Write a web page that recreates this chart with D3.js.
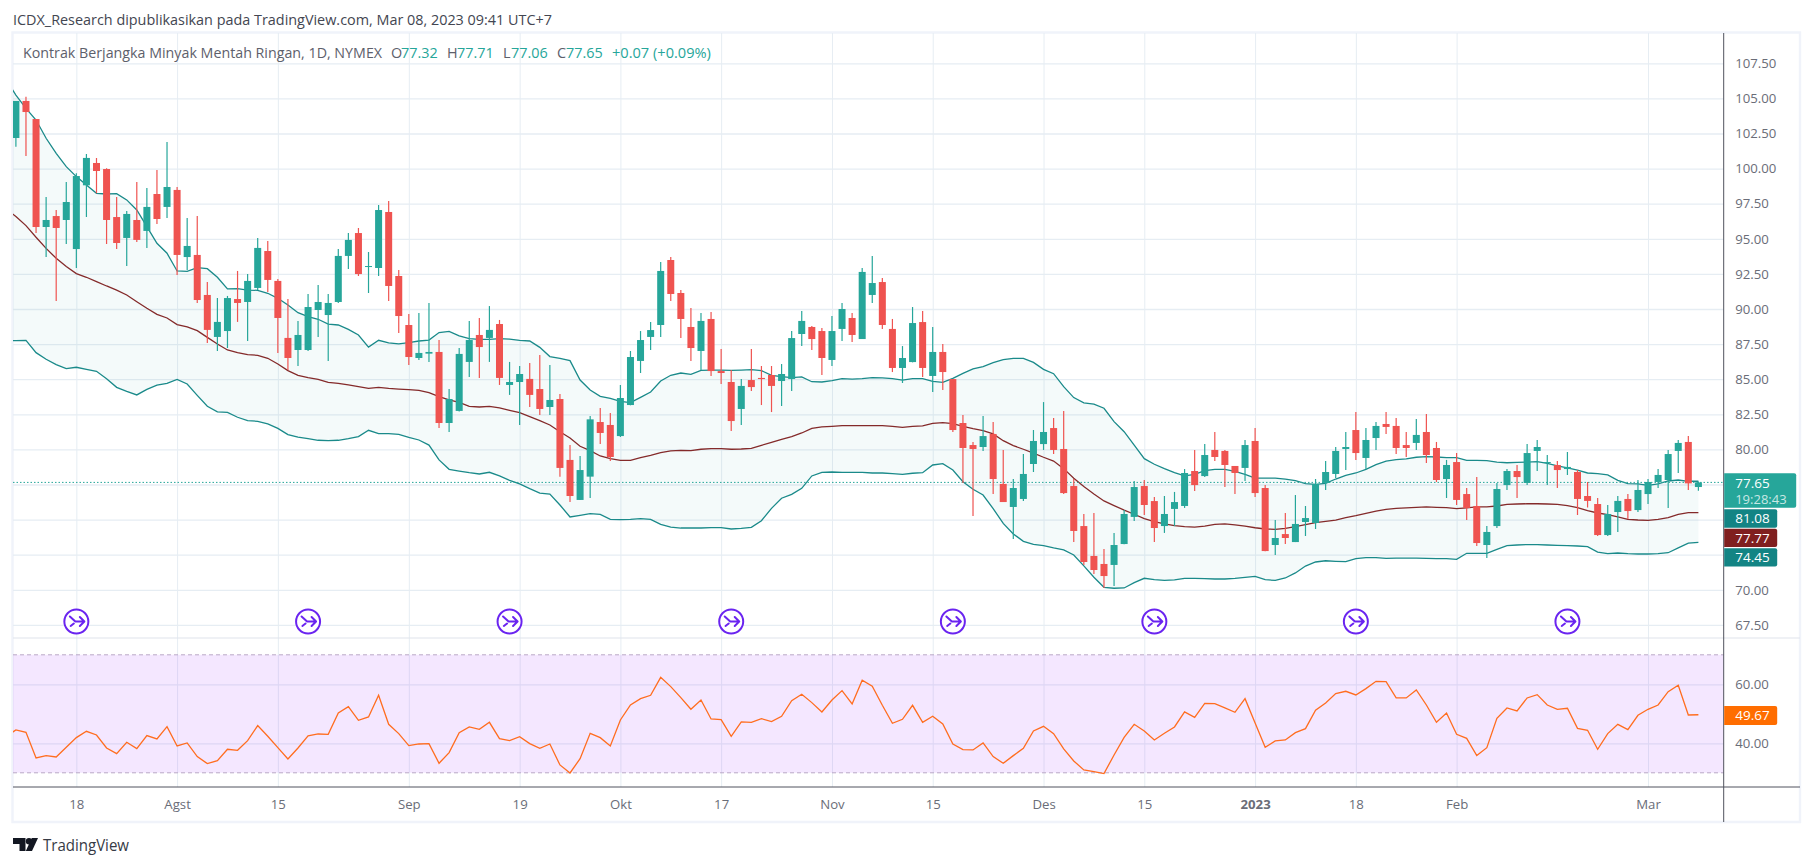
<!DOCTYPE html>
<html>
<head>
<meta charset="utf-8">
<script src="https://cdnjs.cloudflare.com/ajax/libs/d3/7.8.5/d3.min.js"></script>
<style>
html,body{margin:0;padding:0;background:#fff;}
svg{display:block;}
text{font-family:"Open Sans","Noto Sans",sans-serif;}
</style>
</head>
<body>
<svg id="c" width="1813" height="866"></svg>
<script>
const headerText = "ICDX_Research dipublikasikan pada TradingView.com, Mar 08, 2023 09:41 UTC+7";
const symbolText = "Kontrak Berjangka Minyak Mentah Ringan, 1D, NYMEX";
const opens = [102.18,104.82,103.53,95.84,96.62,96.34,94.27,98.81,100.40,99.97,
96.55,95.06,96.34,95.56,98.19,97.27,98.48,93.70,93.85,91.00,
88.01,88.43,90.71,90.50,91.50,94.13,92.00,87.94,87.08,87.08,
89.93,89.57,90.50,93.78,95.41,92.99,92.92,96.91,92.35,88.86,
86.51,86.82,86.94,81.88,82.74,86.23,88.15,87.94,88.93,84.59,
84.80,85.02,84.30,83.02,83.59,79.25,76.40,78.06,81.95,81.74,
80.95,83.16,86.30,88.01,88.86,93.49,91.14,88.72,87.01,89.29,
85.58,84.80,82.88,84.94,85.09,85.30,84.87,85.01,88.22,88.72,
88.43,86.37,88.58,89.36,87.86,91.00,91.92,88.58,85.80,86.22,
89.07,85.23,86.94,85.01,81.88,80.31,80.17,81.10,77.54,75.90,
76.47,78.96,80.38,81.52,80.03,77.39,74.54,72.41,71.84,71.77,
73.26,75.19,77.39,76.32,74.54,75.76,75.97,78.46,78.10,79.96,
79.89,78.82,78.68,80.60,77.25,73.19,73.97,73.40,74.83,74.76,
77.61,78.25,80.03,81.38,79.39,80.81,81.81,81.67,80.31,80.46,
81.24,80.10,77.89,79.10,76.82,75.97,73.19,74.54,77.46,78.46,
77.61,79.89,79.03,78.89,78.60,78.39,76.68,76.11,73.90,75.54,
76.47,75.68,76.82,77.68,77.82,79.89,80.53,77.32];
const highs = [104.82,105.12,103.53,97.98,97.05,99.05,99.66,101.04,100.76,100.02,
97.98,96.98,99.05,98.62,99.90,101.90,98.69,96.48,96.62,91.92,
90.78,90.93,92.71,92.49,95.06,94.84,92.14,90.71,89.15,91.07,
91.71,91.07,94.27,95.41,95.77,94.06,97.41,97.69,92.78,89.64,
89.72,90.43,87.79,84.30,87.22,89.15,89.36,90.21,89.22,86.23,
85.94,86.15,86.72,86.01,83.95,80.31,79.53,82.38,82.95,82.59,
84.59,87.01,88.43,89.07,93.35,93.70,91.35,90.07,89.72,89.79,
87.15,85.65,85.01,87.15,85.94,85.94,86.08,88.43,89.86,88.79,
88.65,89.50,90.43,89.72,92.92,93.78,92.21,89.29,87.36,90.14,
89.86,88.72,87.51,85.01,82.45,80.53,82.38,81.95,79.96,77.89,
79.67,81.38,83.37,82.24,82.73,77.89,75.40,75.47,72.91,74.05,
75.68,77.75,77.82,76.61,76.68,76.97,78.60,79.96,80.38,81.24,
79.96,78.82,80.67,81.52,77.46,74.97,75.47,76.75,75.97,77.89,
79.17,80.17,81.24,82.66,81.52,81.95,82.66,82.24,81.24,82.17,
82.52,80.53,79.25,79.74,77.25,78.03,74.54,77.61,78.60,78.89,
80.38,80.67,79.60,79.17,79.82,78.53,77.68,76.54,76.04,76.68,
76.82,77.82,77.89,78.60,79.96,80.67,80.95,77.71];
const lows = [101.56,100.90,95.41,93.70,90.57,94.63,92.92,96.55,98.24,94.63,
94.27,93.06,94.77,94.35,96.06,96.48,92.42,92.78,90.43,87.58,
87.01,87.22,89.08,87.72,91.35,91.21,86.87,85.66,85.94,87.01,
88.01,86.30,90.43,92.85,92.35,91.14,92.35,90.57,88.29,86.01,
86.37,86.23,81.53,81.24,82.70,85.16,85.09,86.23,84.59,83.88,
81.74,83.02,82.45,82.45,78.06,76.25,76.40,76.54,80.38,79.17,
80.88,83.14,85.44,87.08,88.01,90.57,87.93,86.30,85.65,85.23,
84.66,81.31,81.74,84.16,83.16,82.66,83.09,84.16,87.36,87.08,
85.30,85.94,87.72,87.65,87.86,90.43,88.58,85.51,84.73,86.20,
85.16,84.09,84.23,81.24,77.61,75.26,79.89,76.82,76.25,73.62,
76.32,78.39,79.96,79.67,76.82,73.40,71.77,71.13,70.13,70.27,
73.24,74.90,75.33,73.40,74.05,74.54,75.83,77.04,78.03,79.17,
77.32,76.82,77.75,76.61,72.74,72.48,73.26,73.40,73.83,74.33,
77.11,77.96,78.53,79.25,78.60,79.96,81.10,79.67,79.46,79.96,
79.03,77.68,76.54,76.04,74.97,73.12,72.27,74.40,77.11,76.54,
77.46,78.46,77.46,77.25,78.18,75.33,75.87,73.83,73.83,74.12,
75.04,75.54,76.11,77.25,75.83,78.32,77.11,77.06];
const closes = [104.82,104.03,95.84,96.34,95.77,97.62,99.47,100.76,99.83,96.34,
94.70,96.77,94.92,97.27,96.41,98.69,93.85,94.49,90.64,88.51,
89.08,90.78,90.43,92.00,94.35,92.07,89.36,86.51,88.15,90.14,
90.50,90.43,93.78,94.92,92.49,93.06,97.05,91.64,89.50,86.58,
86.87,86.94,81.88,83.59,86.80,87.79,87.29,88.51,85.09,84.80,
85.37,83.88,82.88,83.52,78.68,76.68,78.53,82.14,81.17,79.46,
83.66,86.58,87.79,88.50,92.71,91.07,89.29,87.22,89.15,85.58,
85.44,82.02,84.52,84.44,85.01,84.52,85.37,87.93,89.15,87.86,
86.51,88.43,90.00,88.15,92.64,91.85,88.86,85.80,86.51,89.00,
85.80,86.94,85.51,81.38,80.10,80.03,80.95,77.89,76.25,77.25,
78.25,80.60,81.24,79.96,76.89,74.19,71.98,71.41,70.98,73.19,
75.40,77.32,76.04,74.40,75.40,76.25,78.32,77.46,79.60,79.46,
78.89,78.32,80.31,76.89,72.76,73.69,73.69,74.69,75.11,77.54,
78.39,79.89,80.17,79.74,80.67,81.67,81.60,80.10,80.10,81.03,
79.60,77.82,78.89,76.40,75.83,73.33,74.12,77.18,78.46,78.03,
79.74,80.17,79.10,78.53,78.75,76.47,76.33,73.90,75.40,76.33,
75.61,77.11,77.68,78.18,79.67,80.46,77.58,77.65];

// Band and RSI series start one bar before the first visible candle.
const seriesStart = -1;
const upperBand = [106.36,105.24,104.29,103.46,102.16,101.09,100.14,99.43,98.83,98.24,98.19,
98.22,97.77,97.05,95.87,94.68,93.97,92.71,92.68,92.95,92.87,
92.26,91.43,91.45,91.35,91.33,91.12,90.76,90.29,89.74,89.46,
89.27,88.93,88.86,88.55,88.15,87.29,87.77,87.58,87.51,87.60,
87.72,87.79,88.32,88.41,88.08,87.89,87.84,87.84,87.89,87.86,
87.77,87.72,87.27,86.61,86.49,86.32,84.94,84.23,83.78,83.64,
83.42,83.33,83.71,84.09,84.87,85.28,85.44,85.35,85.63,85.65,
85.65,85.63,85.65,85.68,85.61,85.28,85.18,85.11,85.16,84.82,
84.80,84.90,85.04,85.01,85.04,85.11,85.09,85.04,84.94,85.04,
85.04,84.85,84.78,85.06,85.42,85.73,85.89,86.18,86.39,86.49,
86.49,86.20,85.70,85.39,84.47,83.69,83.31,83.23,82.93,81.98,
81.26,80.31,79.34,78.94,78.63,78.34,78.11,78.22,78.49,78.58,
78.58,78.44,78.22,77.96,77.96,77.96,77.89,77.77,77.56,77.51,
77.58,77.89,78.15,78.32,78.58,78.91,79.17,79.27,79.32,79.44,
79.48,79.46,79.41,79.41,79.22,79.22,79.20,79.10,79.05,79.08,
79.10,79.13,79.01,78.82,78.68,78.53,78.32,78.27,78.18,77.80,
77.56,77.54,77.44,77.54,77.75,77.82,77.73,77.73];
const middleBand = [97.17,96.58,95.94,95.11,94.32,93.61,93.02,92.52,92.26,91.95,91.64,
91.35,91.00,90.52,90.05,89.62,89.36,88.89,88.72,88.46,87.98,
87.51,87.08,86.89,86.75,86.70,86.49,86.08,85.61,85.28,85.11,
84.99,84.78,84.71,84.59,84.47,84.35,84.42,84.35,84.30,84.26,
84.21,84.04,83.76,83.52,83.35,83.07,83.02,83.07,82.95,82.78,
82.62,82.33,82.05,81.74,81.26,80.81,80.22,79.91,79.53,79.34,
79.22,79.22,79.41,79.58,79.77,79.89,79.93,79.91,80.01,80.05,
80.05,80.01,80.03,80.08,80.29,80.50,80.72,80.91,81.17,81.50,
81.60,81.64,81.69,81.69,81.69,81.69,81.69,81.64,81.57,81.64,
81.67,81.86,81.90,81.83,81.64,81.48,81.34,81.10,80.62,80.27,
80.01,79.74,79.44,79.17,78.63,77.94,77.35,76.82,76.33,76.00,
75.68,75.38,75.07,74.85,74.69,74.57,74.50,74.47,74.54,74.66,
74.69,74.62,74.54,74.42,74.33,74.31,74.38,74.50,74.64,74.78,
74.88,74.97,75.14,75.28,75.45,75.61,75.73,75.80,75.83,75.87,
75.90,75.87,75.85,75.78,75.83,75.90,75.90,75.97,76.09,76.11,
76.13,76.13,76.11,76.09,75.99,75.85,75.64,75.47,75.35,75.19,
75.02,74.97,74.95,75.02,75.14,75.38,75.49,75.49];
const lowerBand = [87.75,87.75,87.77,86.89,86.42,86.04,85.75,85.85,85.70,85.56,85.04,
84.42,84.14,83.88,84.28,84.57,84.71,84.99,84.66,83.85,83.07,
82.67,82.64,82.29,82.05,82.00,81.81,81.50,81.05,80.88,80.76,
80.65,80.62,80.65,80.76,80.91,81.36,81.12,81.12,81.07,80.86,
80.67,80.31,79.25,78.58,78.46,78.34,78.25,78.37,78.11,77.80,
77.54,77.20,76.89,76.82,76.04,75.19,75.30,75.42,75.37,75.02,
75.00,75.02,75.07,75.02,74.66,74.47,74.40,74.40,74.40,74.43,
74.43,74.33,74.38,74.45,74.92,75.80,76.52,76.80,77.23,78.11,
78.37,78.39,78.37,78.37,78.37,78.32,78.32,78.27,78.22,78.30,
78.34,78.89,78.98,78.53,77.70,77.16,76.75,75.78,74.73,73.98,
73.45,73.24,73.14,72.98,72.84,72.48,71.70,70.89,70.18,70.11,
70.13,70.51,70.82,70.72,70.67,70.70,70.82,70.82,70.79,70.77,
70.77,70.82,70.89,70.96,70.72,70.67,70.84,71.20,71.69,71.98,
72.07,72.03,72.00,72.22,72.29,72.29,72.24,72.26,72.26,72.26,
72.24,72.22,72.22,72.17,72.60,72.60,72.60,72.88,73.14,73.19,
73.22,73.22,73.19,73.17,73.14,73.12,73.07,72.69,72.57,72.62,
72.57,72.55,72.55,72.57,72.64,72.98,73.33,73.38];
const rsiValues = [42.26,44.52,43.73,35.03,35.82,35.37,38.64,41.92,44.07,42.82,38.42,
36.50,40.34,38.19,42.60,41.47,45.65,39.10,40.11,35.48,33.11,
34.12,37.97,37.63,40.90,45.99,42.37,38.53,34.69,38.42,42.49,
43.16,43.05,50.28,52.43,47.80,48.93,56.27,46.44,43.28,39.21,
39.77,39.89,33.22,36.84,43.62,45.54,44.75,47.12,41.58,40.90,
42.26,39.89,38.31,39.77,32.66,29.94,34.80,43.39,41.92,39.10,
47.91,52.99,55.14,56.27,62.37,59.21,55.48,51.53,54.69,48.25,
48.02,42.37,47.23,47.12,48.36,47.34,49.15,54.46,56.61,53.79,
50.62,54.69,57.85,53.33,61.36,59.32,52.88,46.78,48.14,52.88,
47.12,49.15,46.55,39.77,37.85,37.74,40.11,35.48,33.22,35.82,
38.31,44.18,45.76,43.28,38.08,34.01,30.96,30.40,29.72,36.05,
42.03,46.44,44.18,41.13,43.39,45.54,50.62,48.81,53.56,53.45,
51.98,50.51,55.14,46.89,38.64,40.79,41.13,43.62,44.97,51.19,
53.67,56.84,57.63,56.38,58.53,61.02,60.90,55.37,55.37,58.08,
52.99,47.12,50.28,43.05,41.69,35.82,38.53,48.47,51.98,50.96,
55.37,56.50,52.99,51.53,51.86,45.08,44.41,37.97,43.28,46.44,
44.63,49.49,51.53,52.99,57.51,59.66,49.60,49.67];

const timeTickBars = [6,16,26,39,50,60,70,81,91,102,112,123,133,143,162];
const timeTickLabels = ["18","Agst","15","Sep","19","Okt","17","Nov","15","Des","15","2023","18","Feb","Mar"];
const priceGrid = d3.range(67.5, 107.51, 2.5);
const priceTickHidden = [72.5, 75, 77.5];
const rsiGrid = [40, 60];
const rsiBands = [30, 70];
const earningsBars = [6,29,49,71,93,113,133,154];
const lastClose = 77.65;
const legendOHLC = ["O","77.32","H","77.71","L","77.06","C","77.65"];
const legendChange = "+0.07 (+0.09%)";
const bandTags = ["81.08","77.77","74.45"];
const rsiTag = "49.67";
const countdown = "19:28:43";

const UP="#26a69a", DOWN="#ef5350", GRID="#e6edf3", AXIS="#50535e", TXT="#6a6d78";
const L=13, R=1723.7, T=33, SEP=638, AB=787, FB=822, FR=1800;

const x = d3.scaleLinear().domain([0,167]).range([15.9,1698.4]);
const y = d3.scaleLinear().domain([67.5,107.5]).range([624.9,63.3]);
const yr = d3.scaleLinear().domain([30,70]).range([772.8,654.8]);

const svg = d3.select("#c");
const defs = svg.append("defs");
defs.append("clipPath").attr("id","pane").append("rect").attr("x",L).attr("y",T).attr("width",R-L).attr("height",SEP-T);
defs.append("clipPath").attr("id","rsi").append("rect").attr("x",L).attr("y",SEP).attr("width",R-L).attr("height",AB-SEP);

// header
svg.append("text").attr("x",13).attr("y",20).attr("dy","0.35em").attr("font-size",14.4).attr("fill","#434651").text(headerText);

// frame
svg.append("path").attr("d",`M${L-0.5},${T-0.5}H${FR}V${FB}H${L-0.5}Z`).attr("fill","none").attr("stroke","#f0f3fa").attr("stroke-width",2.4);

// grid: vertical from the time axis, horizontal from the price axes
svg.append("g").attr("transform",`translate(0,${T})`)
  .call(d3.axisBottom(x).tickValues(timeTickBars).tickSize(AB-T).tickFormat(""))
  .call(g=>g.select(".domain").remove())
  .call(g=>g.selectAll("line").attr("stroke",GRID).attr("stroke-width",1));
svg.append("g").attr("transform",`translate(${L},0)`)
  .call(d3.axisRight(y).tickValues(priceGrid).tickSize(R-L).tickFormat(""))
  .call(g=>g.select(".domain").remove())
  .call(g=>g.selectAll("line").attr("stroke",GRID).attr("stroke-width",1.3));
svg.append("g").attr("transform",`translate(${L},0)`)
  .call(d3.axisRight(yr).tickValues(rsiGrid).tickSize(R-L).tickFormat(""))
  .call(g=>g.select(".domain").remove())
  .call(g=>g.selectAll("line").attr("stroke",GRID).attr("stroke-width",1.3));

// Bollinger bands
const pane = svg.append("g").attr("clip-path","url(#pane)");
const bx = (d,i)=>x(i+seriesStart);
pane.append("path").datum(upperBand)
  .attr("d",d3.area().x(bx).y0((d,i)=>y(lowerBand[i])).y1(d=>y(d)))
  .attr("fill","rgba(38,166,154,0.05)");
const bandLine = d3.line().x(bx).y(d=>y(d));
pane.append("path").datum(upperBand).attr("d",bandLine).attr("fill","none").attr("stroke","#1a8a8a").attr("stroke-width",1.3);
pane.append("path").datum(lowerBand).attr("d",bandLine).attr("fill","none").attr("stroke","#1a8a8a").attr("stroke-width",1.3);
pane.append("path").datum(middleBand).attr("d",bandLine).attr("fill","none").attr("stroke","#842a2a").attr("stroke-width",1.3);

// close price line
pane.append("line").attr("x1",L).attr("x2",R).attr("y1",y(lastClose)).attr("y2",y(lastClose))
  .attr("stroke",UP).attr("stroke-width",1).attr("stroke-dasharray","1.5 2");

// candles
const bars = d3.range(opens.length);
const col = i=>closes[i]>=opens[i]?UP:DOWN;
pane.append("g").selectAll("line").data(bars).join("line")
  .attr("x1",i=>x(i)).attr("x2",i=>x(i)).attr("y1",i=>y(highs[i])).attr("y2",i=>y(lows[i]))
  .attr("stroke",col).attr("stroke-width",1.2);
pane.append("g").selectAll("rect").data(bars).join("rect")
  .attr("x",i=>x(i)-3.5).attr("width",7)
  .attr("y",i=>y(Math.max(opens[i],closes[i])))
  .attr("height",i=>Math.max(1,y(Math.min(opens[i],closes[i]))-y(Math.max(opens[i],closes[i]))))
  .attr("fill",col);

// earnings markers
const marks = svg.append("g").selectAll("g").data(earningsBars).join("g")
  .attr("transform",i=>`translate(${x(i)},621.5)`)
  .attr("fill","none").attr("stroke","#6a24f0").attr("stroke-width",2).attr("stroke-linecap","round").attr("stroke-linejoin","round");
marks.append("circle").attr("r",12).attr("fill","#fff");
marks.append("path").attr("d","M-6.5,-5L-1,0H7.5M3.5,-4.5L8,0L3.5,4.5M-5.7,4.5L-2.5,2");

// RSI
svg.append("rect").attr("x",L).attr("width",R-L).attr("y",yr(70)).attr("height",yr(30)-yr(70)).attr("fill","rgba(156,39,255,0.11)");
svg.append("g").selectAll("line").data(rsiBands).join("line")
  .attr("x1",L).attr("x2",R).attr("y1",d=>yr(d)).attr("y2",d=>yr(d))
  .attr("stroke","#b9a9c6").attr("stroke-width",1).attr("stroke-dasharray","4 3");
svg.append("path").datum(rsiValues).attr("clip-path","url(#rsi)")
  .attr("d",d3.line().x(bx).y(d=>yr(d))).attr("fill","none").attr("stroke","#ff6d1f").attr("stroke-width",1.3);

// separators & axes lines
svg.append("line").attr("x1",L).attr("x2",FR).attr("y1",SEP).attr("y2",SEP).attr("stroke","#e0e3eb").attr("stroke-width",1.2);
svg.append("line").attr("x1",L).attr("x2",FR).attr("y1",AB).attr("y2",AB).attr("stroke",AXIS).attr("stroke-width",1);
svg.append("line").attr("x1",R).attr("x2",R).attr("y1",T).attr("y2",FB).attr("stroke",AXIS).attr("stroke-width",1);

// price axis labels
const axisStyle = g=>g.call(g=>g.select(".domain").remove()).call(g=>g.selectAll("line").remove())
  .call(g=>g.selectAll("text").attr("font-size",13.2).attr("fill",TXT).attr("font-family",'"Open Sans","Noto Sans",sans-serif').attr("x",11.5));
svg.append("g").attr("transform",`translate(${R},0)`)
  .call(d3.axisRight(y).tickValues(priceGrid.filter(v=>!priceTickHidden.includes(v))).tickFormat(d3.format(".2f")))
  .call(axisStyle);
svg.append("g").attr("transform",`translate(${R},0)`)
  .call(d3.axisRight(yr).tickValues(rsiGrid).tickFormat(d3.format(".2f")))
  .call(axisStyle);

// time axis labels
svg.append("g").attr("transform",`translate(0,${AB})`)
  .call(d3.axisBottom(x).tickValues(timeTickBars).tickFormat((d,i)=>timeTickLabels[i]))
  .call(g=>g.select(".domain").remove()).call(g=>g.selectAll("line").remove())
  .call(g=>g.selectAll("text").attr("y",17).attr("dy","0.35em").attr("font-size",13.2).attr("fill",TXT)
    .attr("font-family",'"Open Sans","Noto Sans",sans-serif')
    .attr("font-weight",(d,i)=>timeTickLabels[i]==="2023"?700:400));

// legend
svg.append("text").attr("x",23).attr("y",53).attr("dy","0.35em").attr("font-size",14.25).attr("fill","#5d606b").text(symbolText);
const legX=[391,401,447,457,503,511,557,566];
legendOHLC.forEach((t,i)=>svg.append("text").attr("x",legX[i]).attr("y",53).attr("dy","0.35em").attr("font-size",14.4)
  .attr("fill",i%2?UP:"#5d606b").text(t));
svg.append("text").attr("x",612).attr("y",53).attr("dy","0.35em").attr("font-size",14.6).attr("fill",UP).text(legendChange);

// tags
function tag(y0,h,w,fill,txt,ty,tfill){
  svg.append("path").attr("d",`M${R+.5},${y0}H${R+w-2}q2,0 2,2V${y0+h-2}q0,2 -2,2H${R+.5}Z`).attr("fill",fill);
  svg.append("text").attr("x",R+11.5).attr("y",ty).attr("dy","0.35em").attr("font-size",13.5).attr("fill",tfill||"#fff").text(txt);
}
tag(473.3,34.4,72.5,UP,lastClose.toFixed(2),483);
svg.append("text").attr("x",R+11.5).attr("y",499).attr("dy","0.35em").attr("font-size",13).attr("fill","rgba(255,255,255,0.75)").text(countdown);
tag(509.3,18.4,53.5,"#138484",bandTags[0],518.5);
tag(528.7,18.4,53.5,"#801f1f",bandTags[1],537.9);
tag(548.2,18.4,53.5,"#138484",bandTags[2],557.4);
tag(706,19,53.5,"#ff6d00",rsiTag,715.5);

// TradingView logo
const logo = svg.append("g").attr("fill","#131722");
logo.append("path").attr("d","M13,838H25.5V851H19.5V844H13Z");
logo.append("circle").attr("cx",29).attr("cy",841.2).attr("r",3.2);
logo.append("path").attr("d","M38,838L32,851H25.8L31.8,838Z");
svg.append("text").attr("x",43).attr("y",845).attr("dy","0.35em").attr("font-size",16).attr("fill","#363a45").attr("font-family","Lato,sans-serif")
  .attr("textLength",86).attr("lengthAdjust","spacingAndGlyphs").text("TradingView");
</script>
</body>
</html>
